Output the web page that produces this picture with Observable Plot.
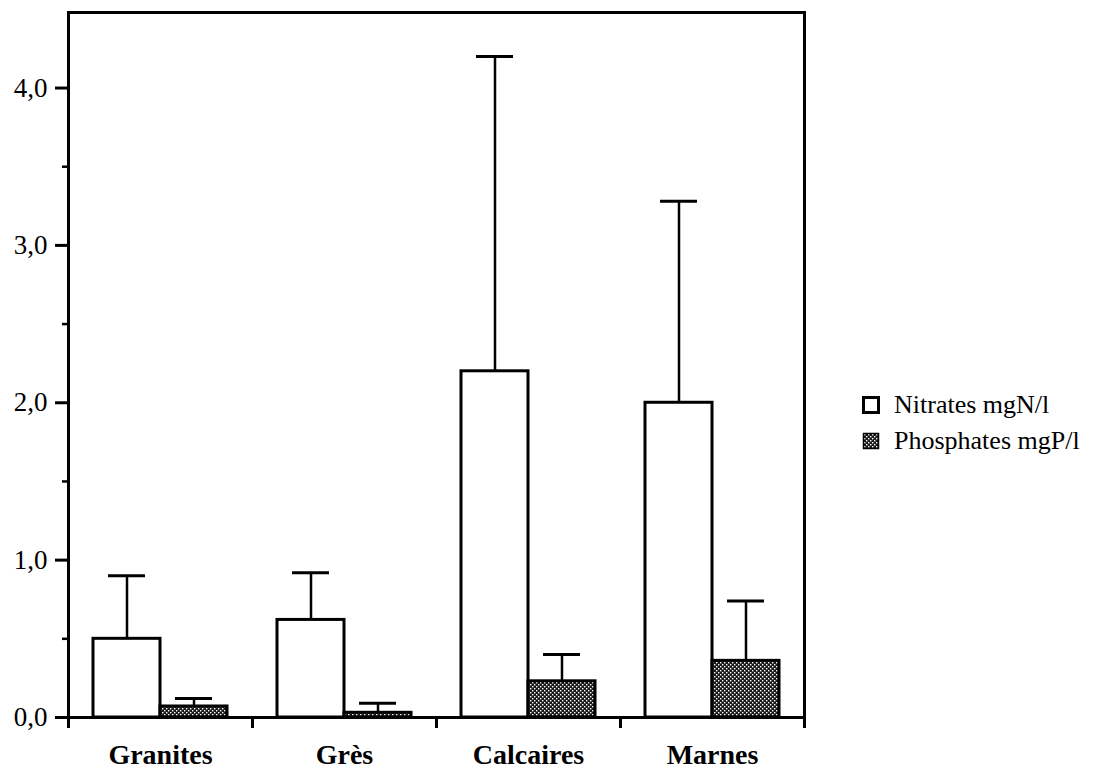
<!DOCTYPE html>
<html>
<head>
<meta charset="utf-8">
<script src="https://cdn.jsdelivr.net/npm/d3@7"></script>
<script src="https://cdn.jsdelivr.net/npm/@observablehq/plot@0.6"></script>
<style>
  html, body { margin: 0; padding: 0; background: white; }
  #wrap { position: relative; width: 1116px; height: 776px; font-family: "Liberation Serif", "DejaVu Serif", "Noto Serif", serif; }
  #legend { position: absolute; left: 862px; top: 387px; font-size: 26px; color: black; font-family: "Liberation Serif", "DejaVu Serif", "Noto Serif", serif; }
  .item { display: flex; align-items: center; height: 36px; }
  .item svg { margin-right: 14px; }
</style>
</head>
<body>
<div id="wrap"></div>
<script>
const categories = ["Granites", "Grès", "Calcaires", "Marnes"];
const series = ["Nitrates mgN/l", "Phosphates mgP/l"];
const nitrates = [0.50, 0.62, 2.20, 2.00];
const nitratesErrTop = [0.90, 0.92, 4.20, 3.28];
const phosphates = [0.07, 0.03, 0.23, 0.36];
const phosphatesErrTop = [0.12, 0.09, 0.40, 0.74];
const yTicks = [0, 1, 2, 3, 4];
const yTickLabels = ["0,0", "1,0", "2,0", "3,0", "4,0"];
const yMinorTicks = [0.5, 1.5, 2.5, 3.5];

const W = 1116, H = 776, mt = 12, mb = 59, ml = 66, mr = 311;
const FONT = "'Liberation Serif', 'DejaVu Serif', 'Noto Serif', serif";

const rows = categories.flatMap((c, i) => [
  {cat: c, s: series[0], v: nitrates[i], e: nitratesErrTop[i]},
  {cat: c, s: series[1], v: phosphates[i], e: phosphatesErrTop[i]}
]);

function build(useSuper) {
  return Plot.plot({
    width: W, height: H,
    marginTop: mt, marginBottom: mb, marginLeft: ml, marginRight: mr,
    style: {fontFamily: FONT, background: "white", color: "black", overflow: "visible"},
    fx: {domain: categories, padding: 0},
    x: {domain: series, paddingInner: 0, paddingOuter: 0.37, axis: null},
    y: {domain: [0, 4.48]},
    marks: [
      Plot.ruleX(rows, {fx: "cat", x: "s", y1: "v", y2: "e", stroke: "black", strokeWidth: 2.5}),
      Plot.tickY(rows, {fx: "cat", x: "s", y: "e", stroke: "black", strokeWidth: 3, insetLeft: 15, insetRight: 15}),
      Plot.barY(rows.filter(d => d.s === series[0]), {fx: "cat", x: "s", y: "v", fill: "white", stroke: "black", strokeWidth: 3}),
      Plot.barY(rows.filter(d => d.s === series[1]), {fx: "cat", x: "s", y: "v", fill: "url(#stipple)", stroke: "black", strokeWidth: 3}),
      useSuper ? Plot.frame({facet: "super", stroke: "black", strokeWidth: 3}) : Plot.frame({anchor: "top", strokeWidth: 3}),
      Plot.frame({anchor: "bottom", strokeWidth: 3}),
      Plot.frame({anchor: "left", insetTop: H - mt - mb, insetBottom: -9, strokeWidth: 3}),
      Plot.frame({anchor: "right", insetTop: H - mt - mb, insetBottom: -9, strokeWidth: 3}),
      Plot.axisY({ticks: yTicks, tickFormat: d => yTickLabels[yTicks.indexOf(d)], tickSize: 13, tickPadding: 8, fontSize: 27, strokeWidth: 3, label: null}),
      Plot.axisY({ticks: yMinorTicks, tickFormat: () => "", tickSize: 6, strokeWidth: 2.5, label: null}),
      Plot.axisFx({anchor: "bottom", tickSize: 0, tickPadding: 27, fontSize: 28, fontWeight: "bold", label: null})
    ]
  });
}

let chart;
try { chart = build(true); } catch (e) { chart = build(false); }

chart.insertAdjacentHTML("afterbegin",
  `<defs><pattern id="stipple" width="4" height="4" patternUnits="userSpaceOnUse">
     <rect width="4" height="4" fill="#1a1a1a"/>
     <rect x="0" y="0" width="1.4" height="1.4" fill="#fff"/>
     <rect x="2" y="2" width="1.4" height="1.4" fill="#fff"/>
   </pattern></defs>`);

const wrap = document.getElementById("wrap");
wrap.appendChild(chart);

const legend = document.createElement("div");
legend.id = "legend";
legend.innerHTML = series.map((s, i) => `
  <div class="item">
    <svg width="18" height="18"><rect x="1.5" y="1.5" width="15" height="15" fill="${i === 0 ? "white" : "url(#stipple)"}" stroke="black" stroke-width="${i === 0 ? 3 : 1.5}"/></svg>
    <span>${s}</span>
  </div>`).join("");
wrap.appendChild(legend);
</script>
</body>
</html>
